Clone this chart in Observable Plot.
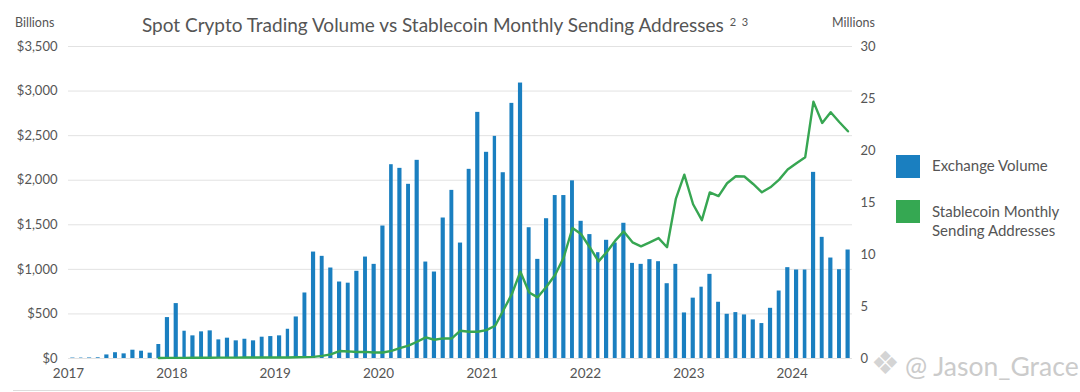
<!DOCTYPE html>
<html><head><meta charset="utf-8">
<script src="https://cdn.jsdelivr.net/npm/d3@7"></script>
<script src="https://cdn.jsdelivr.net/npm/@observablehq/plot@0.6"></script>
<style>
body{margin:0;background:#fff;font-family:Lato,"Open Sans",sans-serif;}
#wrap{position:relative;width:1080px;height:392px;overflow:hidden;background:#fff;}
#chart{position:absolute;left:0;top:0;}
.abs{position:absolute;white-space:nowrap;color:#555;line-height:1;}
.sw{position:absolute;width:24px;height:23px;}
</style></head><body>
<div id="wrap">
  <div id="chart"></div>
  <div class="abs" style="left:142px;top:15px;font-size:19px;">Spot Crypto Trading Volume vs Stablecoin Monthly Sending Addresses<span style="font-size:11px;position:relative;top:-6px;margin-left:6px;">2&nbsp;&nbsp;3</span></div>
  <div class="abs" style="left:15px;top:17px;font-size:12.5px;">Billions</div>
  <div class="abs" style="left:832px;top:17px;font-size:12.5px;">Millions</div>
  <div class="sw" style="left:896px;top:155px;background:#1a7fc0;"></div>
  <div class="sw" style="left:896px;top:200px;background:#35a852;"></div>
  <div class="abs" style="left:932px;top:158px;font-size:15px;">Exchange Volume</div>
  <div class="abs" style="left:932px;top:202px;font-size:15px;line-height:19px;">Stablecoin Monthly<br>Sending Addresses</div>
  <div class="abs" style="left:871px;top:347px;font-size:32px;color:#d4d4d4;font-family:'DejaVu Sans';">❖</div>
  <div class="abs" style="left:905px;top:353px;font-size:26.5px;color:#cbcbcb;">@ Jason_Grace</div>
  <div style="position:absolute;left:13px;top:390px;width:147px;height:1px;background:#ddd;"></div>
</div>
<script>
const months = d3.utcMonth.range(new Date(Date.UTC(2017,0,1)), new Date(Date.UTC(2024,7,1)));
const xEnd = new Date(Date.UTC(2024,7,1));
const yearTicks = [2017,2018,2019,2020,2021,2022,2023,2024];
const leftTicks = [0,500,1000,1500,2000,2500,3000,3500];
const rightTicks = [0,5,10,15,20,25,30];
const Y_MAX = 3500, R_MAX = 30;

// Exchange volume, $ billions, monthly Jan 2017 - Jul 2024
const volume = [
  5, 5, 6, 8, 40, 65, 52, 93, 82, 60, 157, 459,
  616, 306, 254, 299, 310, 209, 228, 198, 216, 198, 239, 246,
  254, 328, 466, 735, 1194, 1146, 1015, 858, 845, 978, 1138, 1056,
  1486, 2174, 2133, 1954, 2223, 1082, 970, 1576, 1886, 1295, 2122, 2761,
  2313, 2492, 2084, 2862, 3090, 1467, 1112, 1568, 1828, 1828, 1993, 1539,
  1390, 1187, 1326, 1296, 1517, 1067, 1056, 1109, 1086, 839, 1056, 511,
  677, 800, 944, 631, 496, 515, 489, 433, 392, 563, 757, 1019,
  993, 993, 2088, 1359, 1127, 996, 1217
];
// Stablecoin monthly sending addresses, millions
const addresses = [
  null, null, null, null, null, null, null, null, null, null, 0.05, 0.06,
  0.06, 0.06, 0.07, 0.07, 0.07, 0.08, 0.08, 0.08, 0.09, 0.09, 0.10, 0.10,
  0.10, 0.10, 0.12, 0.13, 0.16, 0.25, 0.40, 0.72, 0.68, 0.62, 0.64, 0.58,
  0.58, 0.74, 1.00, 1.23, 1.61, 2.03, 1.80, 1.93, 1.93, 2.67, 2.57, 2.57,
  2.73, 3.15, 4.59, 6.20, 8.35, 6.35, 5.88, 6.90, 8.05, 9.72, 12.55, 11.97,
  10.70, 9.34, 10.20, 11.33, 12.22, 11.17, 10.78, 11.17, 11.58, 10.70, 15.34, 17.68,
  14.83, 13.30, 15.97, 15.62, 16.85, 17.52, 17.50, 16.78, 15.98, 16.46, 17.20, 18.17,
  18.78, 19.36, 24.70, 22.65, 23.68, 22.72, 21.85
];

const data = months.map((d, i) => ({date: d, next: d3.utcMonth.offset(d, 1), mid: d3.utcDay.offset(d, 15), volume: volume[i], addr: addresses[i]}));

const chart = Plot.plot({
  width: 1080, height: 392,
  marginTop: 46, marginBottom: 34, marginLeft: 68, marginRight: 228,
  style: {fontFamily: "Lato, 'Open Sans', sans-serif", fontSize: "13px", color: "#555", background: "transparent"},
  x: {type: "utc", domain: [months[0], xEnd]},
  y: {domain: [0, Y_MAX]},
  marks: [
    Plot.gridY(leftTicks, {stroke: "#e2e2e2", strokeOpacity: 1, strokeWidth: 1}),
    Plot.axisY(leftTicks, {anchor: "left", tickSize: 0, tickPadding: 11, tickFormat: d3.format("$,"), label: null, fontSize: 13}),
    Plot.axisY(rightTicks.map(m => m * Y_MAX / R_MAX), {anchor: "right", tickSize: 0, tickPadding: 8, textAnchor: "start", tickFormat: d => Math.round(d * R_MAX / Y_MAX), label: null, fontSize: 13}),
    Plot.axisX(yearTicks.map(y => new Date(Date.UTC(y, 0, 1))), {tickSize: 0, tickPadding: 10, tickFormat: d3.utcFormat("%Y"), label: null, fontSize: 13.5}),
    Plot.rectY(data, {x1: "date", x2: "next", y: "volume", fill: "#1a7fc0", insetLeft: 2.3, insetRight: 2.3}),
    Plot.lineY(data.filter(d => d.addr != null), {x: "mid", y: d => d.addr * Y_MAX / R_MAX, stroke: "#37a652", strokeWidth: 2.4, strokeLinejoin: "round"})
  ]
});
document.getElementById("chart").appendChild(chart);
</script>
</body></html>
